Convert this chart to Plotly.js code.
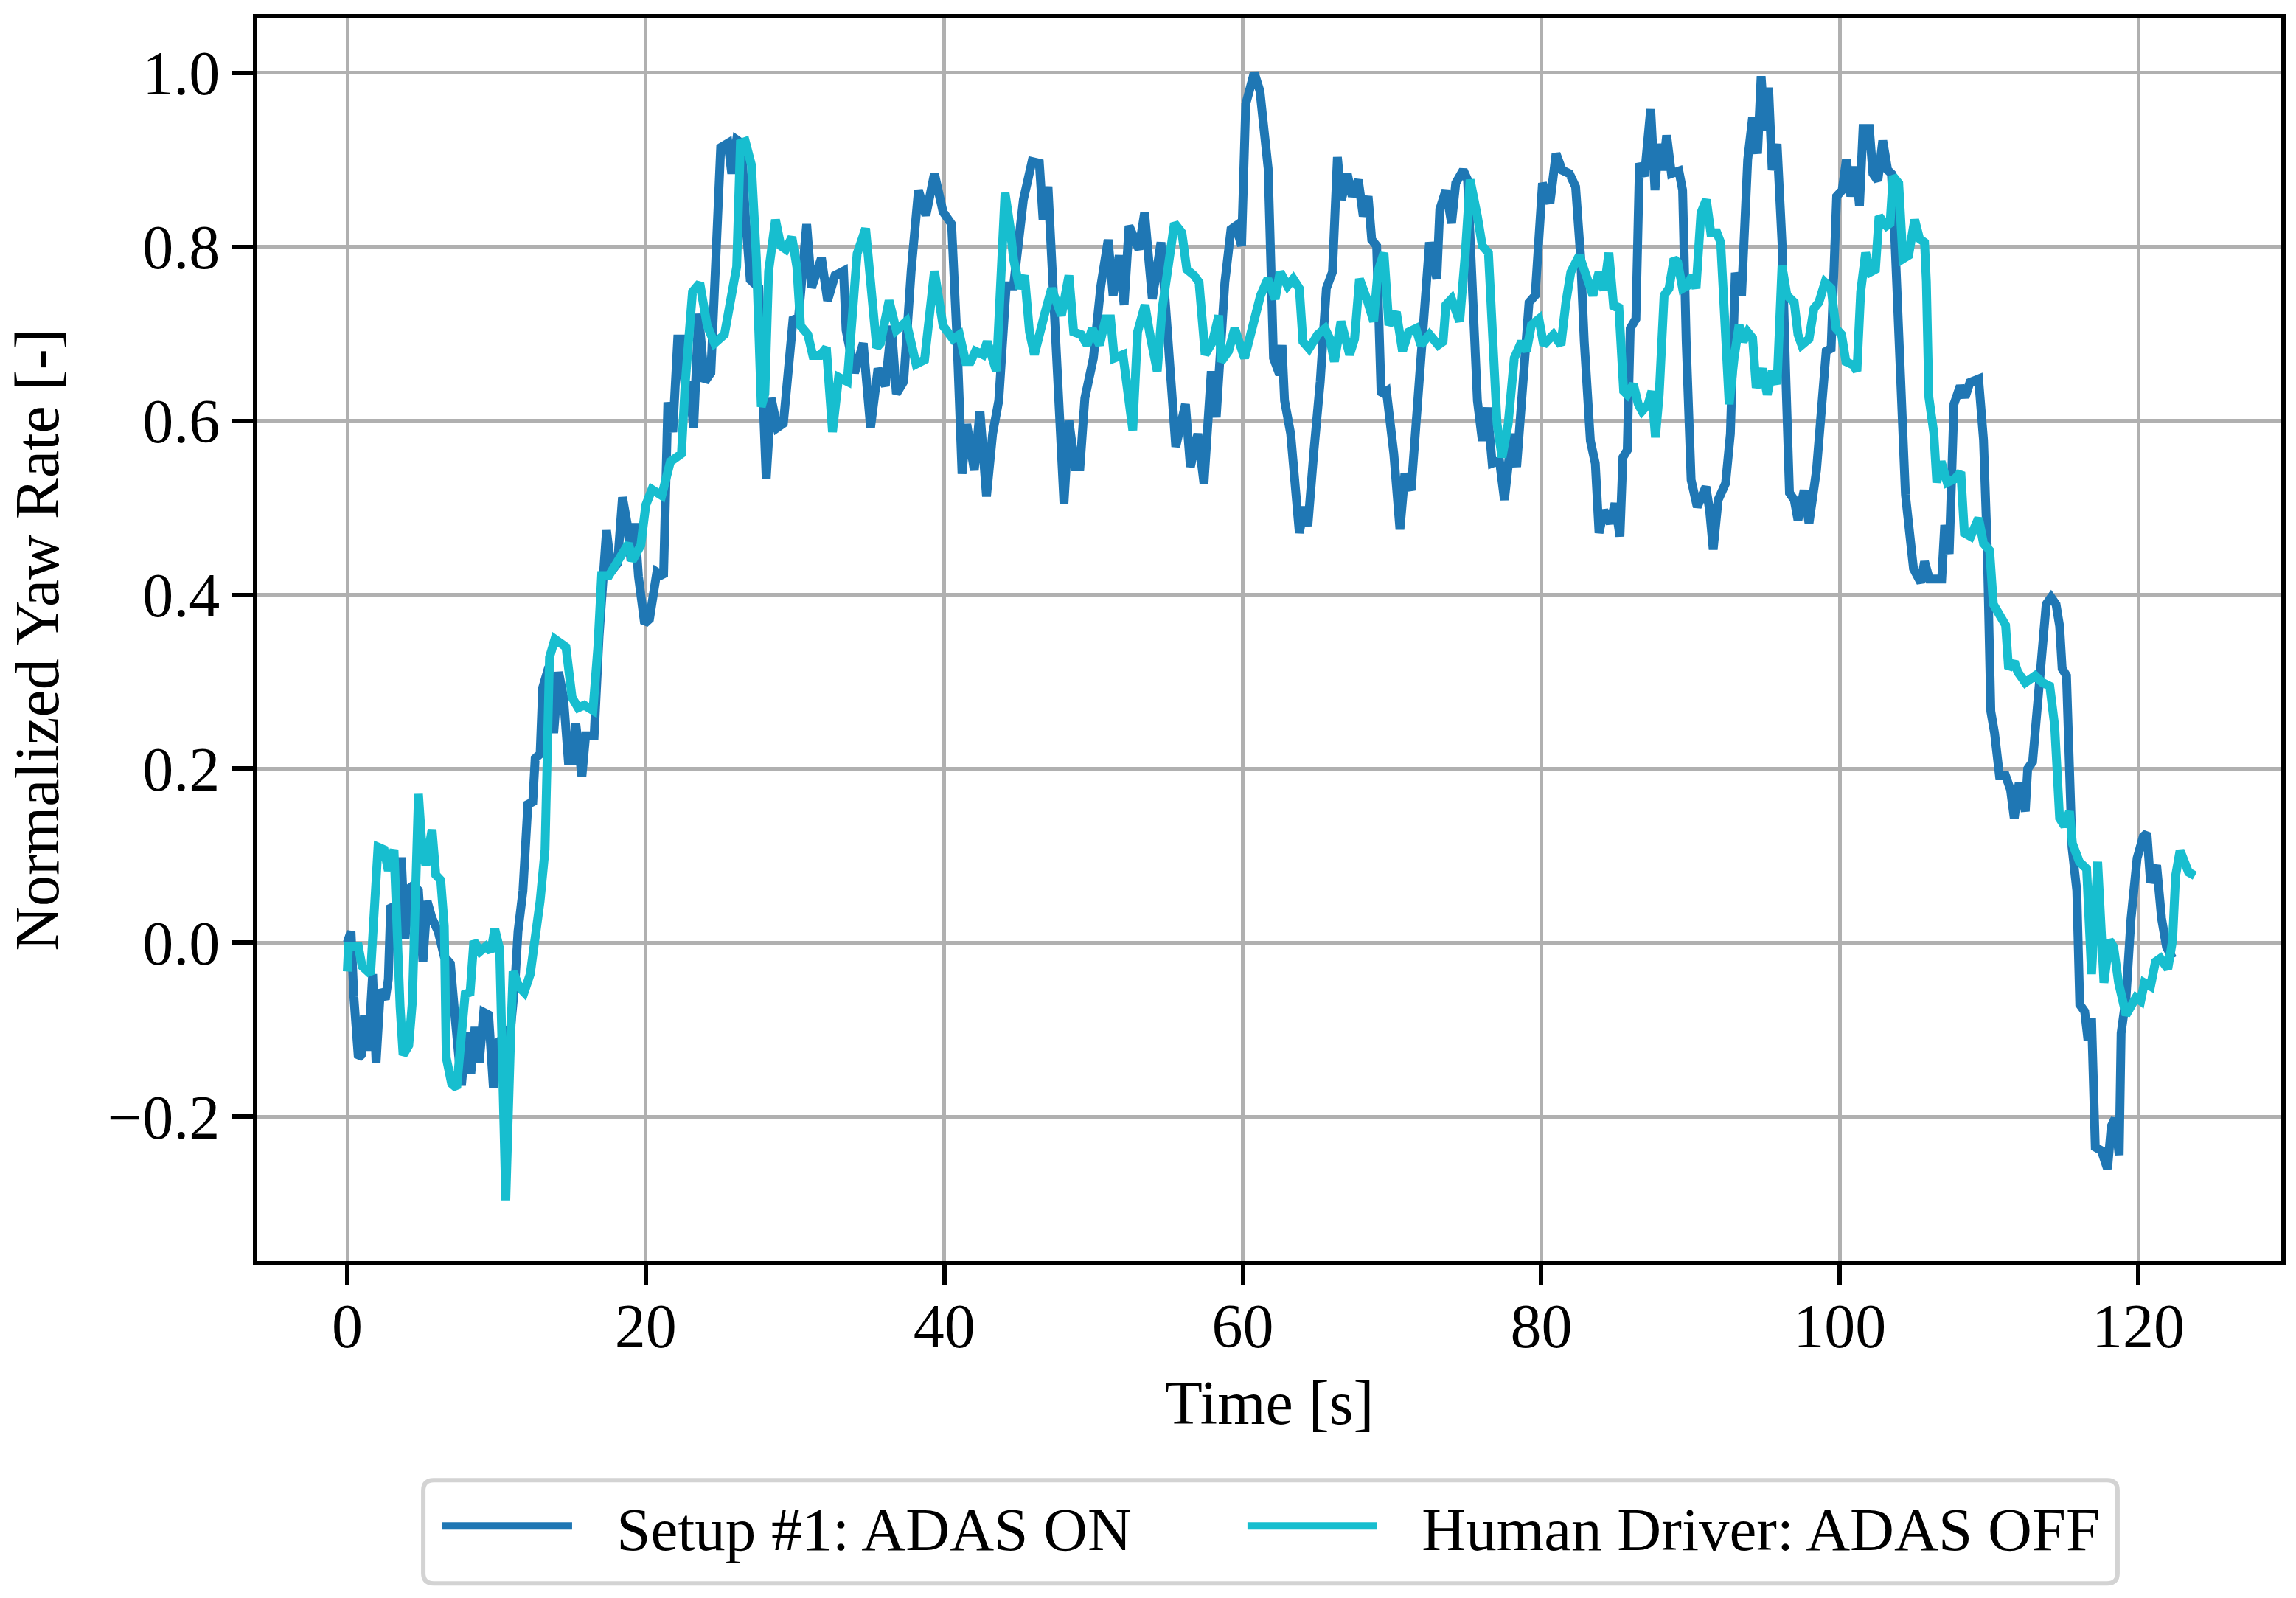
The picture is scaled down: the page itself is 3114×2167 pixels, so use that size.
<!DOCTYPE html>
<html>
<head>
<meta charset="utf-8">
<script src="https://cdn.plot.ly/plotly-3.0.1.min.js"></script>
<style>html, body { margin: 0; padding: 0; background: #fff; }</style>
</head>
<body>
<div id="yawPlot" style="width:3114px;height:2167px;"></div>
<script>
// Time stamps [s] and normalized yaw rate for the ADAS run.
const adasTime = [0, 0.25, 0.44, 0.74, 0.94, 1.15, 1.40, 1.70, 1.93, 2.22, 2.55, 2.75, 2.91, 3.13, 3.34, 3.62, 3.87, 4.20, 4.44, 4.77,
  5.07, 5.35, 5.68, 6.09, 6.50, 6.91, 7.16, 7.65, 7.98, 8.28, 8.56, 8.84, 9.14, 9.47, 9.79, 10.04, 10.53, 10.95, 11.24, 11.44,
  11.77, 12.10, 12.43, 12.59, 12.92, 13.09, 13.50, 13.83, 14.16, 14.49, 14.81, 15.06, 15.31, 15.72, 15.97, 16.54, 16.87, 17.37, 17.70, 18.11,
  18.44, 18.77, 19.01, 19.26, 19.51, 19.92, 20.25, 20.74, 21.19, 21.48, 21.81, 22.14, 22.39, 22.63, 22.88, 23.21, 23.54, 23.95, 24.36, 24.69,
  25.02, 25.51, 25.76, 26.09, 26.42, 26.67, 27.00, 27.57, 28.07, 28.40, 28.81, 29.22, 29.47, 29.88, 30.21, 30.78, 31.11, 31.77, 32.18, 32.68,
  33.25, 33.42, 33.99, 34.57, 35.06, 35.56, 36.05, 36.46, 36.79, 37.28, 37.78, 38.27, 38.77, 39.34, 39.92, 40.49, 40.86, 41.19, 41.51, 42.01,
  42.39, 42.83, 43.24, 43.65, 44.15, 44.64, 45.30, 45.88, 46.37, 46.62, 46.95, 47.28, 47.61, 48.02, 48.35, 48.76, 49.09, 49.42, 49.99, 50.49,
  50.98, 51.31, 51.72, 52.05, 52.38, 53.04, 53.42, 53.94, 54.52, 55.01, 55.51, 56.16, 56.49, 56.99, 57.40, 57.89, 58.22, 58.80, 59.21, 59.54,
  59.92, 60.20, 60.77, 61.15, 61.70, 62.06, 62.47, 62.63, 62.80, 63.21, 63.62, 63.79, 64.12, 64.36, 64.77, 65.19, 65.60, 66.01, 66.34, 66.62,
  67.00, 67.33, 67.74, 68.07, 68.40, 68.64, 68.97, 69.27, 69.63, 70.12, 70.53, 70.86, 71.28, 71.77, 72.26, 72.51, 73.00, 73.20, 73.61, 73.99,
  74.27, 74.77, 75.06, 75.31, 75.72, 76.05, 76.38, 76.71, 77.20, 77.53, 78.02, 78.35, 78.85, 79.18, 79.59, 80.08, 80.58, 80.99, 81.40, 81.89,
  82.30, 82.63, 82.88, 83.29, 83.62, 83.87, 84.20, 84.61, 84.94, 85.27, 85.47, 85.76, 85.96, 86.34, 86.58, 86.91, 87.33, 87.62, 87.82, 88.15,
  88.40, 88.72, 89.22, 89.47, 89.71, 90.04, 90.45, 91.03, 91.28, 91.52, 91.85, 92.35, 92.67, 93.00, 93.42, 93.83, 94.16, 94.49, 94.73, 94.98,
  95.23, 95.47, 95.80, 96.13, 96.38, 96.63, 96.95, 97.20, 97.61, 97.94, 98.44, 98.77, 99.09, 99.42, 99.59, 99.79, 100.16, 100.44, 100.74, 101.07,
  101.32, 101.56, 101.98, 102.22, 102.55, 102.88, 103.21, 103.46, 103.70, 104.10, 104.40, 104.94, 105.43, 105.68, 106.01, 106.50, 106.83, 107.03, 107.33, 107.65,
  108.07, 108.40, 108.72, 109.30, 109.63, 109.88, 110.12, 110.37, 110.70, 111.11, 111.44, 111.69, 112.02, 112.43, 112.59, 112.92, 113.25, 113.55, 113.83, 114.16,
  114.49, 114.73, 114.90, 115.19, 115.39, 115.56, 115.88, 116.08, 116.41, 116.63, 116.87, 117.12, 117.53, 117.94, 118.19, 118.44, 118.72, 118.85, 119.18, 119.51,
  119.92, 120.33, 120.58, 120.82, 121.23, 121.56, 121.89, 122.30];
const adasYaw = [0.000, 0.013, -0.062, -0.132, -0.129, -0.083, -0.124, -0.036, -0.138, -0.054, -0.065, -0.042, 0.043, 0.040, 0.002, 0.098, 0.005, 0.063, 0.066, 0.060,
  -0.022, 0.048, 0.028, 0.013, -0.016, -0.024, -0.074, -0.164, -0.103, -0.150, -0.097, -0.138, -0.080, -0.083, -0.167, -0.115, -0.109, -0.097, -0.045, 0.013,
  0.060, 0.159, 0.162, 0.212, 0.217, 0.293, 0.317, 0.241, 0.311, 0.282, 0.209, 0.209, 0.252, 0.191, 0.238, 0.238, 0.352, 0.474, 0.427, 0.436,
  0.512, 0.480, 0.439, 0.482, 0.421, 0.367, 0.372, 0.426, 0.421, 0.621, 0.587, 0.694, 0.694, 0.640, 0.645, 0.592, 0.723, 0.645, 0.655, 0.787,
  0.914, 0.919, 0.884, 0.923, 0.919, 0.836, 0.762, 0.753, 0.533, 0.626, 0.592, 0.597, 0.650, 0.719, 0.714, 0.826, 0.753, 0.787, 0.738, 0.767,
  0.772, 0.704, 0.655, 0.689, 0.592, 0.660, 0.640, 0.709, 0.631, 0.645, 0.772, 0.865, 0.836, 0.884, 0.840, 0.826, 0.691, 0.539, 0.596, 0.543,
  0.611, 0.513, 0.585, 0.623, 0.755, 0.755, 0.854, 0.898, 0.896, 0.831, 0.869, 0.767, 0.668, 0.505, 0.600, 0.547, 0.547, 0.626, 0.672, 0.755,
  0.808, 0.744, 0.790, 0.733, 0.824, 0.797, 0.839, 0.740, 0.805, 0.699, 0.570, 0.619, 0.547, 0.585, 0.528, 0.657, 0.604, 0.759, 0.820, 0.824,
  0.801, 0.964, 1.000, 0.979, 0.890, 0.672, 0.653, 0.687, 0.623, 0.585, 0.520, 0.471, 0.501, 0.479, 0.566, 0.645, 0.752, 0.771, 0.903, 0.854,
  0.884, 0.858, 0.877, 0.835, 0.858, 0.808, 0.801, 0.630, 0.634, 0.562, 0.475, 0.539, 0.520, 0.634, 0.721, 0.805, 0.763, 0.843, 0.865, 0.827,
  0.873, 0.888, 0.877, 0.797, 0.623, 0.577, 0.615, 0.551, 0.554, 0.509, 0.585, 0.547, 0.661, 0.736, 0.744, 0.873, 0.850, 0.907, 0.888, 0.884,
  0.869, 0.790, 0.691, 0.577, 0.551, 0.471, 0.497, 0.482, 0.505, 0.467, 0.558, 0.566, 0.706, 0.717, 0.896, 0.881, 0.958, 0.865, 0.918, 0.888,
  0.928, 0.884, 0.887, 0.865, 0.691, 0.532, 0.501, 0.524, 0.497, 0.452, 0.509, 0.528, 0.585, 0.770, 0.744, 0.900, 0.949, 0.907, 0.996, 0.934,
  0.983, 0.888, 0.918, 0.805, 0.653, 0.517, 0.509, 0.486, 0.520, 0.482, 0.543, 0.626, 0.680, 0.683, 0.805, 0.858, 0.865, 0.900, 0.858, 0.892,
  0.847, 0.936, 0.936, 0.884, 0.876, 0.922, 0.888, 0.884, 0.805, 0.620, 0.515, 0.430, 0.414, 0.438, 0.418, 0.418, 0.418, 0.480, 0.447, 0.619,
  0.640, 0.627, 0.644, 0.648, 0.578, 0.455, 0.266, 0.241, 0.192, 0.192, 0.176, 0.143, 0.184, 0.151, 0.200, 0.208, 0.266, 0.323, 0.389, 0.397,
  0.389, 0.364, 0.315, 0.307, 0.225, 0.110, 0.060, -0.071, -0.079, -0.112, -0.087, -0.235, -0.239, -0.260, -0.211, -0.202, -0.244, -0.104, -0.063, 0.027,
  0.097, 0.122, 0.126, 0.069, 0.089, 0.028, -0.005, -0.018];

// Time stamps [s] and normalized yaw rate for the human driver run.
const humanTime = [0, 0.08, 0.74, 0.99, 1.56, 1.81, 2.06, 2.47, 2.75, 3.13, 3.33, 3.54, 3.74, 4.12, 4.36, 4.61, 4.77, 5.02, 5.27, 5.68,
  5.93, 6.26, 6.50, 6.63, 6.99, 7.33, 7.65, 7.90, 8.23, 8.48, 8.89, 9.30, 9.63, 9.88, 10.21, 10.62, 10.95, 11.11, 11.52, 11.85,
  12.26, 12.59, 12.92, 13.25, 13.45, 13.55, 13.91, 14.24, 14.65, 15.06, 15.47, 15.88, 16.46, 16.79, 17.04, 17.53, 18.02, 18.44, 18.85, 19.09,
  19.67, 20.00, 20.41, 21.07, 21.65, 22.39, 22.63, 23.13, 23.62, 24.12, 24.61, 25.27, 25.68, 26.09, 26.34, 26.67, 27.08, 27.41, 27.74, 27.98,
  28.23, 28.69, 29.05, 29.38, 29.79, 30.12, 30.37, 30.86, 31.19, 31.69, 32.10, 32.51, 32.92, 33.50, 34.16, 34.73, 35.47, 35.72, 36.30, 36.79,
  37.45, 38.11, 38.68, 39.34, 39.92, 40.58, 41.02, 41.43, 41.76, 42.09, 42.58, 42.88, 43.49, 43.82, 44.07, 44.40, 44.64, 45.05, 45.38, 45.71,
  46.04, 46.70, 47.19, 47.85, 48.35, 48.67, 49.17, 49.58, 49.91, 50.40, 50.81, 51.14, 51.39, 51.97, 52.63, 52.95, 53.45, 53.78, 54.27, 54.60,
  54.93, 55.42, 55.92, 56.25, 56.74, 57.07, 57.48, 57.98, 58.39, 58.55, 59.05, 59.46, 60.12, 60.77, 61.19, 61.68, 62.17, 62.50, 63.00, 63.38,
  63.79, 64.03, 64.44, 65.02, 65.51, 65.84, 66.14, 66.58, 67.16, 67.49, 67.82, 68.31, 68.77, 69.05, 69.46, 69.79, 70.29, 70.70, 71.11, 71.60,
  71.93, 72.51, 73.09, 73.42, 73.61, 73.99, 74.53, 74.90, 75.23, 75.72, 76.05, 76.46, 76.71, 77.04, 77.37, 77.78, 78.19, 78.68, 79.01, 79.34,
  79.84, 80.16, 80.82, 81.32, 81.65, 81.98, 82.55, 82.96, 83.46, 83.87, 84.20, 84.53, 84.86, 85.19, 85.52, 85.76, 86.17, 86.50, 86.75, 87.16,
  87.41, 87.65, 87.90, 88.23, 88.56, 88.89, 89.14, 89.47, 89.79, 90.12, 90.37, 90.70, 91.06, 91.36, 91.77, 92.02, 92.35, 92.59, 92.92, 93.25,
  93.53, 93.83, 94.16, 94.40, 94.81, 95.14, 95.47, 95.80, 96.13, 96.46, 96.95, 97.20, 97.45, 97.94, 98.27, 98.60, 99.01, 99.42, 99.75, 100.12,
  100.41, 100.91, 101.15, 101.40, 101.73, 102.06, 102.39, 102.63, 103.13, 103.37, 103.57, 103.95, 104.23, 104.61, 105.02, 105.35, 105.68, 105.80, 105.97, 106.30,
  106.50, 106.79, 107.20, 107.70, 108.11, 108.35, 108.77, 109.30, 109.63, 110.04, 110.29, 110.62, 111.11, 111.31, 111.69, 111.93, 112.43, 113.09, 113.58, 114.07,
  114.40, 114.73, 115.06, 115.39, 115.59, 116.05, 116.54, 116.87, 117.28, 117.70, 118.06, 118.35, 118.68, 119.18, 119.51, 119.84, 120.16, 120.41, 120.82, 121.15,
  121.48, 121.98, 122.30, 122.50, 122.80, 123.13, 123.37, 123.79];
const humanYaw = [-0.033, -0.004, -0.004, -0.027, -0.036, 0.048, 0.110, 0.107, 0.083, 0.107, -0.010, -0.074, -0.129, -0.118, -0.068, 0.118, 0.171, 0.107, 0.089, 0.130,
  0.078, 0.072, 0.019, -0.132, -0.162, -0.167, -0.097, -0.059, -0.057, 0.002, -0.010, -0.004, -0.010, 0.016, -0.007, -0.296, -0.106, -0.033, -0.051, -0.057,
  -0.036, 0.002, 0.048, 0.107, 0.235, 0.328, 0.349, 0.346, 0.340, 0.282, 0.270, 0.273, 0.267, 0.340, 0.422, 0.422, 0.436, 0.448, 0.459, 0.439,
  0.457, 0.503, 0.521, 0.514, 0.553, 0.562, 0.640, 0.748, 0.758, 0.709, 0.689, 0.699, 0.733, 0.777, 0.919, 0.921, 0.894, 0.787, 0.616, 0.631,
  0.772, 0.831, 0.801, 0.797, 0.811, 0.777, 0.709, 0.699, 0.675, 0.675, 0.684, 0.587, 0.650, 0.645, 0.792, 0.821, 0.684, 0.689, 0.738, 0.704,
  0.714, 0.665, 0.670, 0.772, 0.709, 0.694, 0.699, 0.668, 0.668, 0.680, 0.676, 0.691, 0.657, 0.767, 0.862, 0.824, 0.786, 0.752, 0.767, 0.702,
  0.676, 0.721, 0.752, 0.721, 0.767, 0.702, 0.699, 0.687, 0.706, 0.687, 0.717, 0.717, 0.672, 0.676, 0.589, 0.702, 0.733, 0.699, 0.657, 0.729,
  0.767, 0.827, 0.816, 0.774, 0.767, 0.759, 0.676, 0.691, 0.721, 0.668, 0.680, 0.706, 0.672, 0.717, 0.744, 0.763, 0.740, 0.771, 0.755, 0.763,
  0.752, 0.691, 0.683, 0.699, 0.706, 0.694, 0.668, 0.714, 0.676, 0.694, 0.763, 0.740, 0.714, 0.771, 0.793, 0.710, 0.725, 0.680, 0.702, 0.706,
  0.687, 0.699, 0.687, 0.691, 0.733, 0.740, 0.714, 0.790, 0.877, 0.835, 0.801, 0.793, 0.710, 0.596, 0.558, 0.596, 0.672, 0.691, 0.680, 0.710,
  0.717, 0.687, 0.699, 0.687, 0.736, 0.771, 0.790, 0.771, 0.744, 0.771, 0.750, 0.793, 0.729, 0.733, 0.634, 0.630, 0.642, 0.619, 0.611, 0.619,
  0.634, 0.581, 0.630, 0.744, 0.752, 0.786, 0.782, 0.752, 0.755, 0.767, 0.752, 0.839, 0.854, 0.816, 0.816, 0.805, 0.691, 0.619, 0.672, 0.710,
  0.691, 0.702, 0.695, 0.638, 0.660, 0.630, 0.657, 0.642, 0.778, 0.744, 0.736, 0.699, 0.687, 0.694, 0.729, 0.736, 0.759, 0.752, 0.706, 0.699,
  0.668, 0.664, 0.657, 0.748, 0.793, 0.771, 0.774, 0.835, 0.824, 0.827, 0.881, 0.873, 0.786, 0.790, 0.831, 0.809, 0.805, 0.760, 0.627, 0.586,
  0.529, 0.553, 0.529, 0.533, 0.541, 0.471, 0.467, 0.488, 0.459, 0.451, 0.389, 0.381, 0.365, 0.315, 0.323, 0.311, 0.299, 0.307, 0.299, 0.295,
  0.249, 0.143, 0.134, 0.151, 0.114, 0.093, 0.085, -0.036, 0.093, -0.046, 0.003, -0.005, -0.046, -0.083, -0.075, -0.063, -0.067, -0.046, -0.050, -0.022,
  -0.018, -0.030, 0.003, 0.077, 0.106, 0.093, 0.081, 0.077];

const seriesNames = ['Setup #1: ADAS ON', 'Human Driver: ADAS OFF'];
const seriesColors = ['#1f77b4', '#17becf'];
const xTicks = [0, 20, 40, 60, 80, 100, 120];
const yTicks = [-0.2, 0.0, 0.2, 0.4, 0.6, 0.8, 1.0];

const serif = 'Liberation Serif, Times New Roman, serif';
// Gap between the legend line sample and its label.
const pad = '\u00a0\u00a0\u2006';

const traces = [
  { x: adasTime, y: adasYaw, type: 'scatter', mode: 'lines', name: pad + seriesNames[0],
    line: {color: seriesColors[0], width: 12}, legend: 'legend' },
  { x: humanTime, y: humanYaw, type: 'scatter', mode: 'lines', name: pad + seriesNames[1],
    line: {color: seriesColors[1], width: 12}, legend: 'legend2' }
];

// Rounded legend frame, in paper coordinates (matplotlib style box).
const frame = (x0, x1, y0, y1, rx, ry) =>
  `M${x0 + rx},${y0} L${x1 - rx},${y0} Q${x1},${y0} ${x1},${y0 - ry} L${x1},${y1 + ry} Q${x1},${y1} ${x1 - rx},${y1} ` +
  `L${x0 + rx},${y1} Q${x0},${y1} ${x0},${y1 + ry} L${x0},${y0 - ry} Q${x0},${y0} ${x0 + rx},${y0} Z`;

const axisStyle = {
  showline: true, mirror: true, linecolor: 'black', linewidth: 6,
  ticks: 'outside', tickwidth: 6, tickcolor: 'black',
  showgrid: true, gridcolor: '#b0b0b0', gridwidth: 5,
  zeroline: false,
  tickfont: {family: serif, size: 84, color: 'black'}
};

const legendStyle = {
  orientation: 'h', xanchor: 'left', y: -0.2133, yanchor: 'middle',
  bgcolor: 'rgba(0,0,0,0)', borderwidth: 0, itemwidth: 176,
  font: {family: serif, size: 83, color: 'black'}
};

const layout = {
  width: 3114, height: 2167,
  margin: {l: 349, r: 20, t: 25, b: 457},
  paper_bgcolor: 'white', plot_bgcolor: 'white',
  font: {family: serif, size: 84, color: 'black'},
  xaxis: Object.assign({}, axisStyle, {
    range: [-6.027, 129.58], tickvals: xTicks, ticklen: 26, ticklabelstandoff: -16,
    title: {text: 'Time [s]', font: {family: serif, size: 84, color: 'black'}, standoff: 30}
  }),
  yaxis: Object.assign({}, axisStyle, {
    range: [-0.3658, 1.0624], tickvals: yTicks, tickformat: '.1f', ticklen: 28,
    title: {text: 'Normalized Yaw Rate [-]', font: {family: serif, size: 84, color: 'black'}, standoff: 40}
  }),
  showlegend: true,
  legend: Object.assign({}, legendStyle, {x: 0.0896}),
  legend2: Object.assign({}, legendStyle, {x: 0.4874}),
  shapes: [{
    type: 'path', xref: 'paper', yref: 'paper', layer: 'below',
    path: frame(0.0820, 0.9191, -0.1764, -0.2595, 0.0051, 0.0083),
    line: {color: '#d3d3d3', width: 6}, fillcolor: 'white'
  }]
};

Plotly.newPlot('yawPlot', traces, layout, {staticPlot: true, displayModeBar: false});
</script>
</body>
</html>
